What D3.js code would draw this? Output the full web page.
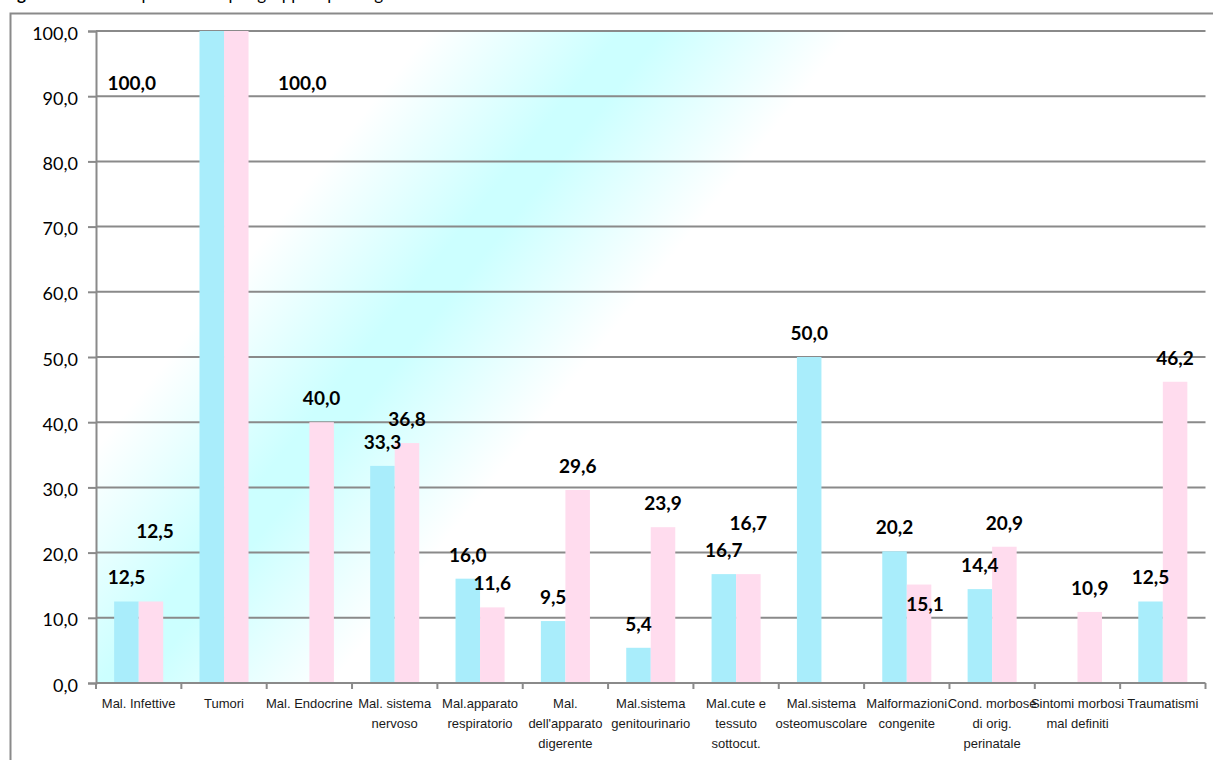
<!DOCTYPE html>
<html>
<head>
<meta charset="utf-8">
<script src="https://cdn.jsdelivr.net/npm/d3@7"></script>
<style>
  html, body { margin: 0; padding: 0; background: #fff; overflow: hidden; }
  svg { display: block; }
</style>
</head>
<body>
<svg id="chart" width="1213" height="760"></svg>
<script>
// ---- data ----
const categories = [
  "Mal. Infettive", "Tumori", "Mal. Endocrine", "Mal. sistema nervoso",
  "Mal.apparato respiratorio", "Mal. dell'apparato digerente", "Mal.sistema genitourinario",
  "Mal.cute e tessuto sottocut.", "Mal.sistema osteomuscolare", "Malformazioni congenite",
  "Cond. morbose di orig. perinatale", "Sintomi morbosi mal definiti", "Traumatismi"
];
const categoryLines = [
  ["Mal. Infettive"], ["Tumori"], ["Mal. Endocrine"], ["Mal. sistema", "nervoso"],
  ["Mal.apparato", "respiratorio"], ["Mal.", "dell'apparato", "digerente"],
  ["Mal.sistema", "genitourinario"], ["Mal.cute e", "tessuto", "sottocut."],
  ["Mal.sistema", "osteomuscolare"], ["Malformazioni", "congenite"],
  ["Cond. morbose", "di orig.", "perinatale"], ["Sintomi morbosi", "mal definiti"], ["Traumatismi"]
];
const maschi  = [12.5, 100.0, null, 33.3, 16.0, 9.5, 5.4, 16.7, 50.0, 20.2, 14.4, null, 12.5];
const femmine = [12.5, 100.0, 40.0, 36.8, 11.6, 29.6, 23.9, 16.7, null, 15.1, 20.9, 10.9, 46.2];
const yTicks = [0, 10, 20, 30, 40, 50, 60, 70, 80, 90, 100];
const seriesKeys = ["M", "F"];
const titleText = ["Figura 5", " – Letalità per sesso e per gruppi di patologie"];

// ---- layout (kept apart from the data) ----
const W = 1213, H = 760;
const plot = { left: 96, right: 1205.5, top: 31, bottom: 683 };
const colors = { M: "#a9edfb", F: "#ffdcee" };
const gridColor = "#8a8a8a";
// label offsets (px) from the default position above each bar
const labelShiftM = [[0,0],[-80,76],[0,0],[0,0],[0,0],[0,0],[0,0],[0,0],[0,0],[0,0],[0,0],[0,0],[0,0]];
const labelShiftF = [[4,-46],[66,76],[0,0],[0,0],[0,0],[0,0],[0,0],[0,-27],[0,0],[6,44],[0,0],[0,0],[0,0]];

const svg = d3.select("#chart");

// gradient background of the plot area
const defs = svg.append("defs");
const grad = defs.append("linearGradient")
  .attr("id", "bg").attr("gradientUnits", "userSpaceOnUse")
  .attr("x1", 512).attr("y1", -72).attr("x2", 770).attr("y2", 134)
  .attr("spreadMethod", "pad");
grad.append("stop").attr("offset", 0).attr("stop-color", "#ffffff");
grad.append("stop").attr("offset", 0.45).attr("stop-color", "#ccffff");
grad.append("stop").attr("offset", 0.55).attr("stop-color", "#ccffff");
grad.append("stop").attr("offset", 1).attr("stop-color", "#ffffff");

svg.append("rect").attr("width", W).attr("height", H).attr("fill", "#fff");

// title (cut off at the top, as in the reference)
const title = svg.append("text").attr("x", 3).attr("y", 0)
  .attr("font-family", "Lato, 'Open Sans', sans-serif").attr("font-size", 17).attr("fill", "#000");
title.append("tspan").attr("font-weight", "bold").text(titleText[0]);
title.append("tspan").text(titleText[1]);

// outer chart border
svg.append("rect").attr("x", 10.5).attr("y", 13.5).attr("width", W + 20).attr("height", H + 20)
  .attr("fill", "none").attr("stroke", gridColor).attr("stroke-width", 2);

// scales
const x0 = d3.scaleBand().domain(categories).range([plot.left, plot.right]).paddingInner(0).paddingOuter(0);
const x1 = d3.scaleBand().domain(seriesKeys).range([0, x0.bandwidth()]).paddingInner(0).paddingOuter(0.74);
const y = d3.scaleLinear().domain([0, 100]).range([plot.bottom, plot.top]);

// plot area background
svg.append("rect").attr("x", plot.left).attr("y", plot.top)
  .attr("width", plot.right - plot.left).attr("height", plot.bottom - plot.top)
  .attr("fill", "url(#bg)");

// gridlines
svg.append("g").selectAll("line").data(yTicks.filter(d => d > 0)).join("line")
  .attr("x1", plot.left).attr("x2", plot.right)
  .attr("y1", d => y(d)).attr("y2", d => y(d))
  .attr("stroke", gridColor).attr("stroke-width", 2);

// bars
const rows = categories.map((c, i) => ({ cat: c, i, M: maschi[i], F: femmine[i] }));
const groups = svg.append("g").selectAll("g").data(rows).join("g")
  .attr("transform", d => `translate(${x0(d.cat)},0)`);
groups.selectAll("rect")
  .data(d => seriesKeys.map(k => ({ key: k, value: d[k], i: d.i })).filter(e => e.value != null))
  .join("rect")
  .attr("x", e => x1(e.key)).attr("width", x1.bandwidth())
  .attr("y", e => y(e.value)).attr("height", e => y(0) - y(e.value))
  .attr("fill", e => colors[e.key]);

// y axis
const yAxis = d3.axisLeft(y).tickValues(yTicks).tickSize(8).tickPadding(10)
  .tickFormat(d => d3.format(".1f")(d).replace(".", ","));
const ya = svg.append("g").attr("transform", `translate(${plot.left},0)`).call(yAxis);
ya.select(".domain").attr("stroke", gridColor).attr("stroke-width", 2);
ya.selectAll(".tick line").attr("stroke", gridColor).attr("stroke-width", 2);
ya.selectAll(".tick text").attr("font-family", "Lato, 'Open Sans', sans-serif")
  .attr("font-size", 18).attr("fill", "#000").attr("dy", "0.45em");

// x axis line + boundary ticks
svg.append("line").attr("x1", plot.left).attr("x2", plot.right)
  .attr("y1", plot.bottom).attr("y2", plot.bottom).attr("stroke", gridColor).attr("stroke-width", 2);
const bounds = categories.map(c => x0(c)).concat([plot.right]);
svg.append("g").selectAll("line").data(bounds).join("line")
  .attr("x1", d => d).attr("x2", d => d).attr("y1", plot.bottom).attr("y2", plot.bottom + 6)
  .attr("stroke", gridColor).attr("stroke-width", 2);

// category labels
const catG = svg.append("g").attr("font-family", "'Liberation Sans Narrow', 'Arial Narrow', 'Liberation Sans', sans-serif")
  .attr("font-size", 13).attr("fill", "#1a1a1a").attr("text-anchor", "middle");
categories.forEach((c, i) => {
  const t = catG.append("text").attr("x", x0(c) + x0.bandwidth() / 2).attr("y", 708);
  categoryLines[i].forEach((ln, j) => {
    t.append("tspan").attr("x", x0(c) + x0.bandwidth() / 2).attr("dy", j === 0 ? 0 : 20).text(ln);
  });
});

// data labels
const fmt = v => d3.format(".1f")(v).replace(".", ",");
const lblG = svg.append("g").attr("font-family", "Lato, 'Open Sans', sans-serif")
  .attr("font-size", 19).attr("font-weight", "bold").attr("fill", "#000").attr("text-anchor", "middle");
rows.forEach(r => {
  seriesKeys.forEach(k => {
    const v = r[k];
    if (v == null) return;
    const sh = (k === "M" ? labelShiftM : labelShiftF)[r.i];
    const cx = x0(r.cat) + x1(k) + x1.bandwidth() / 2 + sh[0];
    const cy = y(v) - 24 + sh[1];
    lblG.append("text").attr("x", cx).attr("y", cy).attr("dy", "0.36em").text(fmt(v));
  });
});
</script>
</body>
</html>
